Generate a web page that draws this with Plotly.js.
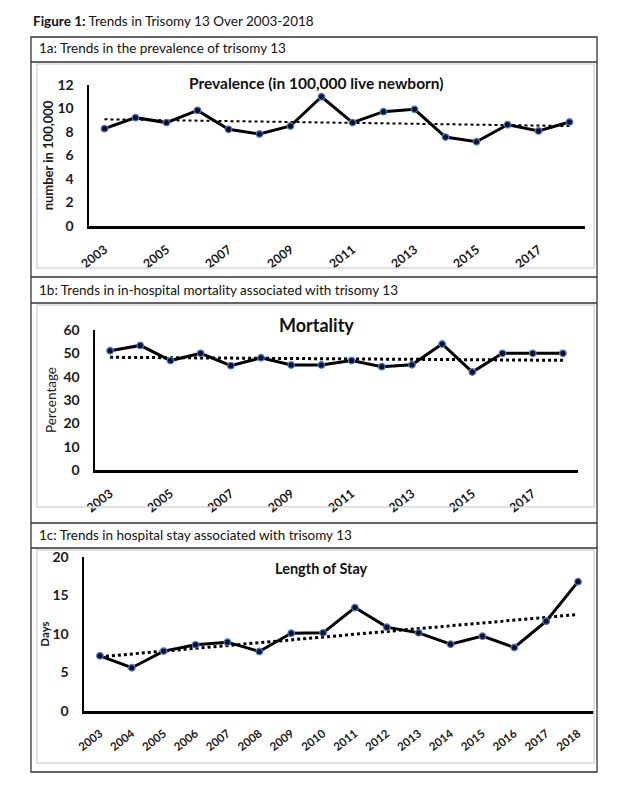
<!DOCTYPE html>
<html>
<head>
<meta charset="utf-8">
<script src="https://cdn.plot.ly/plotly-3.0.1.min.js"></script>
<style>
html,body{margin:0;padding:0;background:#fff;}
#chart{width:621px;height:790px;}
</style>
</head>
<body>
<div id="chart"></div>
<script>
// ---- data ----
const years = [2003,2004,2005,2006,2007,2008,2009,2010,2011,2012,2013,2014,2015,2016,2017,2018];
const prevalence = [8.28,9.22,8.80,9.84,8.23,7.83,8.51,11.0,8.80,9.73,9.93,7.57,7.17,8.62,8.09,8.85];
const mortality = [51.1,53.4,46.9,50.0,44.7,48.1,45.0,45.0,46.9,44.3,45.1,54.0,42.0,50.0,50.0,50.0];
const stay = [7.17,5.62,7.78,8.60,8.94,7.73,10.10,10.15,13.43,10.89,10.15,8.68,9.72,8.25,11.66,16.80];
const trendYears = [2003,2018];
const prevalenceTrend = [9.08,8.51];
const mortalityTrend = [48.3,47.0];
const stayTrend = [7.04,12.53];
const oddYearLabels = ['2003','2005','2007','2009','2011','2013','2015','2017'];
const allYearLabels = ['2003','2004','2005','2006','2007','2008','2009','2010','2011','2012','2013','2014','2015','2016','2017','2018'];
const yTicksA = [0,2,4,6,8,10,12];
const yTicksB = [0,10,20,30,40,50,60];
const yTicksC = [0,5,10,15,20];

// ---- layout helpers (pixel -> paper) ----
const W = 621, H = 790;
const px = v => v / W;
const py = v => 1 - v / H;
const FONT = 'Lato, "Open Sans", sans-serif';

function lineTrace(x, y, xa, ya) {
  return {x: x, y: y, xaxis: xa, yaxis: ya, type: 'scatter', mode: 'lines+markers',
    line: {color: '#000', width: 3},
    marker: {size: 6.5, color: '#10102a', line: {color: '#4a78c8', width: 1.3}},
    hoverinfo: 'x+y', showlegend: false};
}
function trendTrace(x, y, xa, ya, w) {
  return {x: x, y: y, xaxis: xa, yaxis: ya, type: 'scatter', mode: 'lines',
    line: {color: '#000', width: w, dash: 'dot'}, hoverinfo: 'skip', showlegend: false};
}

const traces = [
  trendTrace(trendYears, prevalenceTrend, 'x', 'y', 2),
  lineTrace(years, prevalence, 'x', 'y'),
  trendTrace(trendYears, mortalityTrend, 'x2', 'y2', 3),
  lineTrace(years, mortality, 'x2', 'y2'),
  trendTrace(trendYears, stayTrend, 'x3', 'y3', 3),
  lineTrace(years, stay, 'x3', 'y3')
];

function xAxis(dom, anchor, labels, fs) {
  return {domain: dom, anchor: anchor, range: [2002.5, 2018.5], showgrid: false, zeroline: false,
    showline: true, linecolor: '#000', linewidth: 2.5,
    tickmode: 'array', tickvals: labels.map(Number), ticktext: labels, tickangle: -38,
    ticks: 'outside', ticklen: 9, tickcolor: 'rgba(0,0,0,0)',
    tickfont: {family: FONT, size: fs, color: '#1a1a1a', weight: 'bold'}, fixedrange: true};
}
function yAxis(dom, anchor, rng, vals, title, tfont, standoff) {
  return {domain: dom, anchor: anchor, range: rng, showgrid: false, zeroline: false,
    showline: true, linecolor: '#000', linewidth: 2.5,
    tickmode: 'array', tickvals: vals, ticks: 'outside', ticklen: 10, tickcolor: 'rgba(0,0,0,0)',
    tickfont: {family: FONT, size: 14, color: '#1a1a1a', weight: 'bold'},
    title: {text: title, font: tfont, standoff: standoff}, fixedrange: true};
}

const box = {l: 31, r: 597, t: 37, b: 772};
const shapes = [];
shapes.push({type: 'rect', xref: 'paper', yref: 'paper', x0: px(box.l), x1: px(box.r), y0: py(box.t), y1: py(box.b),
  line: {color: '#333', width: 1.3}});
[62, 277, 303, 523, 548].forEach(yy => shapes.push({type: 'line', xref: 'paper', yref: 'paper',
  x0: px(box.l), x1: px(box.r), y0: py(yy), y1: py(yy), line: {color: '#333', width: 1.3}}));
[[64, 268], [305, 507], [550, 763]].forEach(r => shapes.push({type: 'rect', xref: 'paper', yref: 'paper',
  x0: px(37), x1: px(594), y0: py(r[0]), y1: py(r[1]), line: {color: '#d9d9d9', width: 1.5}}));

function ann(text, x, y, size, anchor) {
  return {text: text, xref: 'paper', yref: 'paper', x: px(x), y: py(y), xanchor: anchor, yanchor: 'middle',
    showarrow: false, font: {family: FONT, size: size, color: '#111'}};
}
const annotations = [
  ann('<b>Figure 1:</b> Trends in Trisomy 13 Over 2003-2018', 31, 21, 13.5, 'left'),
  ann('1a: Trends in the prevalence of trisomy 13', 37, 48, 13.5, 'left'),
  ann('1b: Trends in in-hospital mortality associated with trisomy 13', 37, 290, 13.5, 'left'),
  ann('1c: Trends in hospital stay associated with trisomy 13', 37, 535, 13.5, 'left'),
  ann('<b>Prevalence (in 100,000 live newborn)</b>', 316, 83, 15.5, 'center'),
  ann('<b>Mortality</b>', 316, 325, 18, 'center'),
  ann('<b>Length of Stay</b>', 321, 568, 14.5, 'center')
];

const layout = {
  width: W, height: H, margin: {l: 0, r: 0, t: 0, b: 0},
  paper_bgcolor: '#fff', plot_bgcolor: 'rgba(0,0,0,0)', showlegend: false,
  font: {family: FONT, color: '#222'},
  xaxis: xAxis([px(89), px(585)], 'y', oddYearLabels, 12.5),
  yaxis: yAxis([py(226), py(85)], 'x', [0, 12], yTicksA, '<b>number in 100,000</b>',
    {family: FONT, size: 13, color: '#1a1a1a'}, 1),
  xaxis2: xAxis([px(95), px(578)], 'y2', oddYearLabels, 12.5),
  yaxis2: yAxis([py(470), py(330)], 'x2', [0, 60], yTicksB, 'Percentage',
    {family: FONT, size: 13.5, color: '#1a1a1a'}, 4),
  xaxis3: xAxis([px(84), px(594)], 'y3', allYearLabels, 11.5),
  yaxis3: yAxis([py(711), py(557)], 'x3', [0, 20], yTicksC, '<b>Days</b>',
    {family: FONT, size: 11.5, color: '#1a1a1a'}, 1),
  shapes: shapes,
  annotations: annotations
};

Plotly.newPlot('chart', traces, layout, {displayModeBar: false, staticPlot: true});
</script>
</body>
</html>
